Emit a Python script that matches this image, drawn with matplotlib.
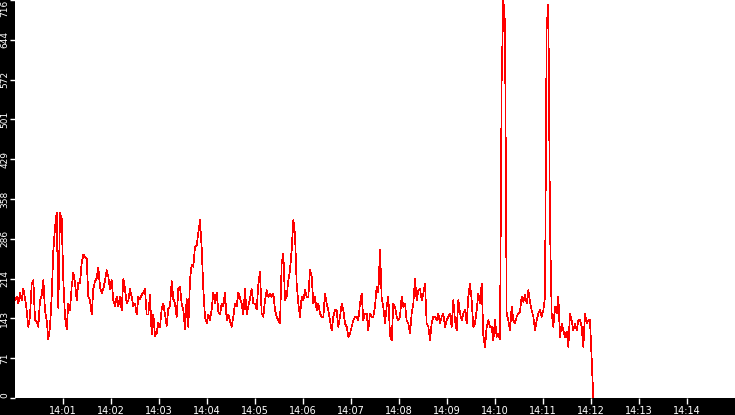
import matplotlib
matplotlib.use("Agg")
import matplotlib.pyplot as plt
import matplotlib.dates as mdates
import numpy as np
import pandas as pd

# samples every 25/12 s in 2.5-minute blocks
vals_1400 = [176, 182, 170, 189, 176, 196, 180, 158, 128, 146, 205, 212, 140, 137, 128, 176,
             185, 212, 158, 140, 106, 128, 182, 265, 307, 333, 162, 333, 322, 212, 146, 124,
             170, 158, 200, 225, 207, 176, 207, 207, 243, 258, 254, 250, 182, 176, 150, 196,
             210, 216, 235, 200, 189, 196, 212, 230, 218, 196, 212, 176, 165, 182, 165, 182,
             158, 214, 196, 170, 176, 196, 182, 165]
vals_1402 = [170, 150, 182, 178, 185, 190, 196, 150, 150, 185, 115, 150, 112, 117, 135, 128,
             160, 170, 150, 130, 160, 165, 210, 178, 170, 146, 196, 200, 170, 158, 124, 178,
             128, 213, 240, 236, 272, 275, 297, 320, 270, 196, 145, 135, 150, 140, 160, 190,
             170, 190, 155, 150, 170, 165, 190, 140, 150, 138, 128, 146, 170, 165, 190, 180,
             170, 150, 196, 150, 165, 178, 196, 170]
vals_1405 = [170, 160, 204, 227, 152, 146, 176, 194, 182, 188, 182, 188, 158, 146, 140, 134,
             242, 260, 176, 182, 212, 230, 266, 320, 295, 206, 170, 146, 182, 176, 194, 182,
             182, 230, 218, 170, 182, 158, 170, 152, 146, 146, 188, 170, 158, 140, 122, 146,
             158, 158, 128, 146, 170, 158, 134, 128, 110, 116, 128, 140, 146, 146, 140, 170,
             188, 140, 152, 152, 122, 152, 146, 146]
vals_1407 = [164, 200, 190, 266, 180, 164, 134, 164, 182, 113, 104, 170, 164, 146, 140, 146,
             182, 164, 170, 140, 134, 116, 152, 170, 215, 176, 194, 197, 176, 188, 206, 134,
             128, 104, 134, 146, 146, 140, 152, 134, 146, 152, 128, 140, 146, 152, 128, 176,
             140, 122, 176, 152, 140, 152, 158, 134, 182, 206, 176, 128, 134, 158, 188, 170,
             206, 113, 92, 128, 140, 128, 128, 104]
vals_1410 = [140, 110, 116, 105, 575, 716, 674, 152, 140, 122, 164, 140, 134, 146, 152, 155,
             182, 173, 185, 170, 194, 173, 158, 146, 122, 140, 152, 158, 146, 158, 182, 668,
             707, 308, 152, 128, 164, 152, 182, 110, 134, 122, 110, 119, 92, 152, 140, 122,
             134, 122, 140, 140, 128, 92, 152, 134, 140, 140, 71, 0]

y_ticklabels = ["0", "71", "143", "214", "286", "358", "429", "501", "572", "644", "716"]
y_max = 716

values = np.array(vals_1400 + vals_1402 + vals_1405 + vals_1407 + vals_1410)
start = pd.Timestamp("2024-01-01 14:00:00")
times = start + pd.to_timedelta(np.arange(len(values)) * 25 / 12, unit="s")

fig = plt.figure(figsize=(7.35, 4.15), dpi=100)
fig.patch.set_facecolor("black")
ax = fig.add_axes([15 / 735, 17 / 415, 720 / 735, 398 / 415])
ax.set_facecolor("white")

ax.plot(times, values, color="#ff0000", lw=0.5, antialiased=False)

ax.set_xlim(start, start + pd.Timedelta(minutes=15))
ax.set_ylim(0, y_max)
ax.xaxis.set_major_locator(mdates.MinuteLocator(byminute=range(1, 15)))
ax.xaxis.set_major_formatter(mdates.DateFormatter("%H:%M"))
ax.set_yticks(np.linspace(0, y_max, len(y_ticklabels)))
ax.set_yticklabels(y_ticklabels, rotation=90)

ax.tick_params(axis="x", colors="white", labelsize=7, width=1, length=4, pad=1.5)
ax.tick_params(axis="y", colors="white", labelsize=6.5, width=1, length=3.5, pad=0.5)
for sp in ax.spines.values():
    sp.set_visible(False)

labels = ax.get_yticklabels()
for i, lab in enumerate(labels):
    if i == 0:
        lab.set_va("bottom")
    elif i == len(labels) - 1:
        lab.set_va("top")
    else:
        lab.set_va("center")

fig.savefig("out.png", dpi=100, facecolor=fig.get_facecolor())
